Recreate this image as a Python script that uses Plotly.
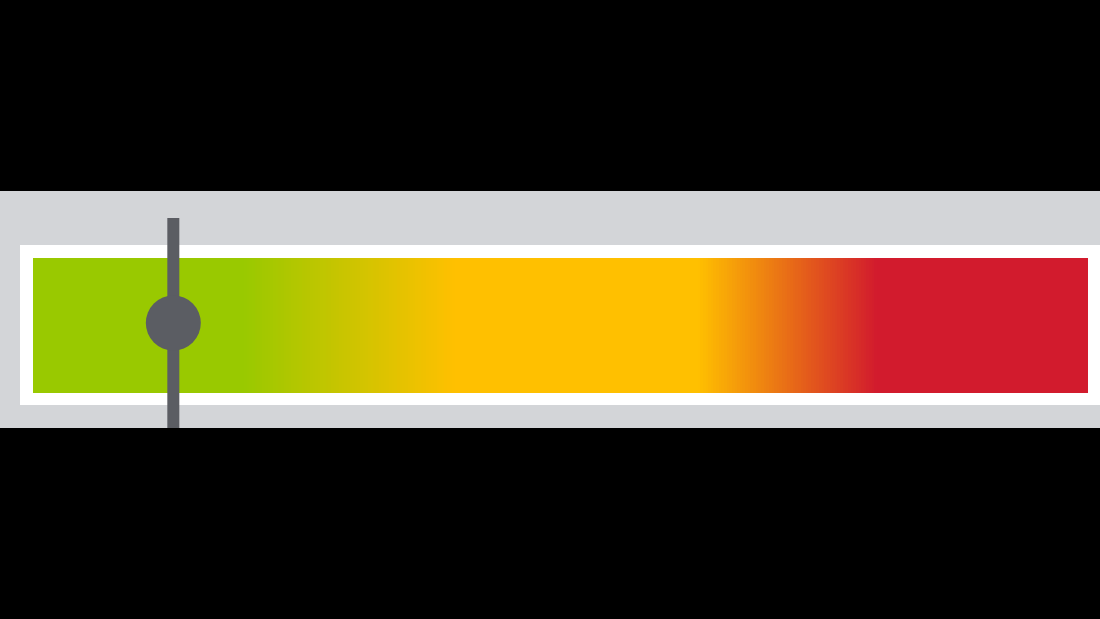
import numpy as np
import plotly.graph_objects as go

# ---- data ----
scale_min = 0
scale_max = 100
gauge_value = 13.3
color_stops = [0.0, 0.20, 0.40, 0.63, 0.80, 1.0]
stop_colors = ["#99C900", "#99C900", "#FFC000", "#FFC000", "#D21B2D", "#D21B2D"]

# ---- layout helpers (pixel geometry of 1100x619 canvas) ----
W, H = 1100, 619
px_left, px_right = 33, 1088
unit = (px_right - px_left) / (scale_max - scale_min)
x_lo = scale_min - px_left / unit
x_hi = scale_min + (W - px_left) / unit

n = 400
edges = np.linspace(scale_min, scale_max, n + 1)
mids = (edges[:-1] + edges[1:]) / 2

fig = go.Figure()

fig.add_trace(go.Heatmap(
    x=edges, y=[258, 393], z=[mids],
    zmin=scale_min, zmax=scale_max,
    colorscale=[[s, c] for s, c in zip(color_stops, stop_colors)],
    showscale=False, hoverinfo="skip",
))

fig.add_trace(go.Scatter(
    x=[gauge_value, gauge_value], y=[218, 428], mode="lines",
    line=dict(color="#5B5D63", width=12), hoverinfo="skip", showlegend=False,
))
fig.add_trace(go.Scatter(
    x=[gauge_value], y=[323], mode="markers",
    marker=dict(color="#5B5D63", size=55, line=dict(width=0)),
    hoverinfo="skip", showlegend=False,
))

# gray band and white frame
fig.add_shape(type="rect", xref="paper", x0=0, x1=1, yref="y", y0=191, y1=428,
              fillcolor="#D3D5D8", line=dict(width=0), layer="below")
fig.add_shape(type="rect", xref="x", x0=scale_min - 13 / unit, x1=x_hi + 1, yref="y",
              y0=245, y1=405, fillcolor="#FFFFFF", line=dict(width=0), layer="below")

fig.update_layout(
    width=W, height=H,
    margin=dict(l=0, r=0, t=0, b=0),
    paper_bgcolor="#000000", plot_bgcolor="#000000",
    showlegend=False,
    xaxis=dict(range=[x_lo, x_hi], visible=False, fixedrange=True),
    yaxis=dict(range=[H, 0], visible=False, fixedrange=True),
)

fig.write_html(
    "out.html",
    config={"displayModeBar": False},
    post_script="document.body.style.margin='0';document.body.style.background='#000';",
)
